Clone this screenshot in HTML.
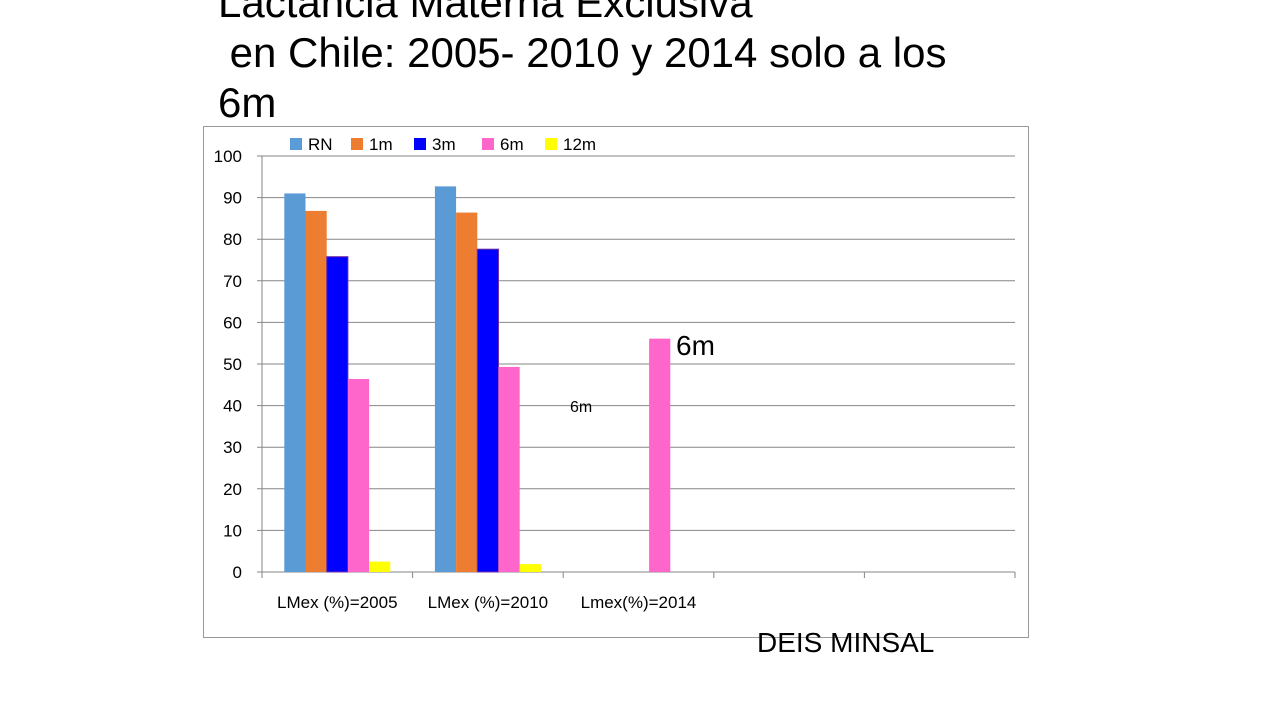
<!DOCTYPE html>
<html><head><meta charset="utf-8"><style>
body{margin:0;width:1280px;height:720px;background:#fff;overflow:hidden;position:relative;font-family:"Liberation Sans",Arial,sans-serif}
.t{position:absolute;left:218px;font-size:42px;color:#000;white-space:pre;line-height:50px}
</style></head><body>
<div class="t" style="top:-22px">Lactancia Materna Exclusiva
 en Chile: 2005- 2010 y 2014 solo a los
6m</div>
<svg width="1280" height="720" style="position:absolute;left:0;top:0">
<rect x="203.5" y="126.5" width="825" height="511" fill="none" stroke="#999"/>
<g id="grid"></g><g id="bars"></g><g id="axes"></g><g id="legend"></g>
<text x="676" y="355" font-size="28" fill="#000">6m</text>
<text x="570" y="412" font-size="16" fill="#000">6m</text>
<text x="757" y="652" font-size="28" fill="#000">DEIS  MINSAL</text>
</svg>
<script>
const categories=["LMex (%)=2005","LMex (%)=2010","Lmex(%)=2014","",""];
const seriesNames=["RN","1m","3m","6m","12m"];
const seriesColors=["#5b9bd5","#ed7d31","#0000ff","#ff66cc","#ffff00"];
const rn=[91,92.7,null,null,null];
const m1=[86.8,86.4,null,null,null];
const m3=[75.8,77.6,null,null,null];
const m6=[46.4,49.3,56.1,null,null];
const m12=[2.5,1.9,null,null,null];
const yTicks=[0,10,20,30,40,50,60,70,80,90,100];
const series=[rn,m1,m3,m6,m12];
const NS="http://www.w3.org/2000/svg";
const x0=262,x1=1015,yB=572,yT=156;
const y=v=>yB-(v/100)*(yB-yT);
const cw=(x1-x0)/categories.length, bw=21.2;
function mk(t,a,p){const e=document.createElementNS(NS,t);for(const k in a)e.setAttribute(k,a[k]);p.appendChild(e);return e;}
const grid=document.getElementById('grid'),bars=document.getElementById('bars'),axes=document.getElementById('axes'),leg=document.getElementById('legend');
yTicks.forEach(v=>{
 const l=mk('line',{x1:x0-5,x2:x1,y1:y(v),y2:y(v),stroke:'#868686','stroke-width':1},grid);
 
 
 const t=mk('text',{x:x0-20,y:y(v)+6,'text-anchor':'end','font-size':17,fill:'#000'},axes);
 t.textContent=v;
 
 
});
mk('line',{x1:x0,x2:x0,y1:yT,y2:yB,stroke:'#868686'},axes);
categories.forEach((c,i)=>{
 const tx=x0+cw*(i+1);
 mk('line',{x1:tx,x2:tx,y1:yB,y2:yB+6,stroke:'#868686'},axes);
 if(i===0)mk('line',{x1:x0,x2:x0,y1:yB,y2:yB+6,stroke:'#868686'},axes);
 if(c){const t=mk('text',{x:x0+cw*(i+0.5),y:608,'text-anchor':'middle','font-size':17,fill:'#000'},axes);
 t.textContent=c;
 
 }
 series.forEach((s,j)=>{
  const v=s[i]; if(v==null)return;
  const bx=x0+cw*(i+0.5)-bw*2.5+bw*j;
  const r=mk('rect',{x:bx,y:y(v),width:bw,height:yB-y(v),fill:seriesColors[j]},bars);
  if(j===2){r.setAttribute('stroke','#7030a0');r.setAttribute('stroke-width','1');}
  
  
 });
});
const lx=[290,351,414,482,545];
seriesNames.forEach((n,j)=>{
 const r=mk('rect',{x:lx[j],y:138,width:12,height:12,fill:seriesColors[j]},leg);
 
 
 const t=mk('text',{x:lx[j]+18,y:150,'font-size':17,fill:'#000'},leg);
 t.textContent=n;
 
 
});
</script>
</body></html>
